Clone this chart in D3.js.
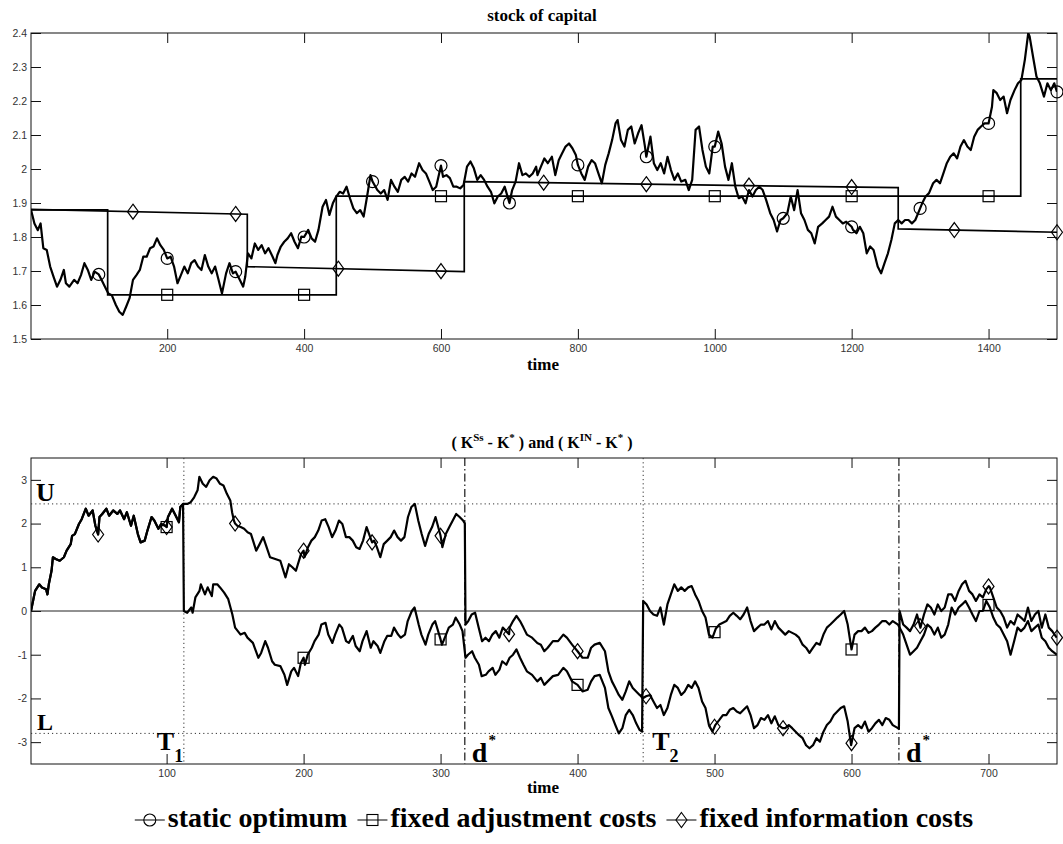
<!DOCTYPE html>
<html>
<head>
<meta charset="utf-8">
<script src="https://cdn.jsdelivr.net/npm/d3@7"></script>
<style>
  body { margin: 0; background: #fff; }
  svg text { font-family: "Liberation Sans", Arial, sans-serif; }
  svg text.serif { font-family: "Liberation Serif", "Times New Roman", serif; font-weight: bold; }
</style>
</head>
<body>
<div id="chart"></div>
<script>
// ---------- top panel: stock of capital ----------
const topXTicks = [200, 400, 600, 800, 1000, 1200, 1400];
const topYTicks = [1.5, 1.6, 1.7, 1.8, 1.9, 2, 2.1, 2.2, 2.3, 2.4];

// static optimum K*
const kStar = [
  [1,1.88],[6,1.84],[11,1.82],[15,1.84],[19,1.767],[24,1.762],[29,1.713],[34,1.683],[39,1.654],[44,1.674],
  [49,1.703],[52,1.664],[57,1.654],[64,1.674],[69,1.664],[74,1.688],[79,1.723],[84,1.703],[89,1.674],[94,1.698],
  [100,1.69],[104,1.674],[109,1.654],[114,1.634],[119,1.629],[125,1.6],[130,1.58],[135,1.571],[140,1.595],[145,1.62],
  [150,1.674],[155,1.688],[160,1.703],[165,1.742],[170,1.742],[175,1.767],[180,1.772],[185,1.796],[190,1.776],[195,1.762],
  [200,1.737],[205,1.742],[210,1.713],[215,1.664],[220,1.688],[225,1.713],[230,1.693],[235,1.723],[240,1.732],[245,1.713],
  [250,1.703],[255,1.747],[260,1.713],[265,1.693],[270,1.713],[275,1.674],[280,1.634],[286,1.693],[291,1.723],[296,1.693],
  [300,1.698],[306,1.674],[311,1.654],[314,1.683],[318,1.752],[323,1.737],[328,1.781],[333,1.762],[338,1.776],[343,1.752],
  [348,1.767],[354,1.742],[358,1.723],[361,1.747],[366,1.772],[371,1.786],[376,1.796],[381,1.811],[386,1.786],[391,1.767],
  [396,1.801],[400,1.80],[406,1.821],[411,1.796],[416,1.786],[421,1.821],[427,1.889],[432,1.909],[437,1.865],[442,1.899],
  [447,1.919],[452,1.933],[457,1.928],[462,1.948],[467,1.914],[472,1.884],[477,1.87],[482,1.879],[487,1.86],[492,1.919],
  [497,1.982],[500,1.963],[507,1.938],[512,1.928],[517,1.938],[522,1.909],[527,1.968],[532,1.948],[537,1.933],[542,1.968],
  [547,1.977],[552,1.963],[557,1.987],[562,1.977],[568,2.017],[573,1.997],[578,1.987],[583,1.963],[588,1.938],[593,1.948],
  [600,2.01],[603,1.977],[608,1.982],[613,1.973],[618,1.948],[623,1.948],[628,1.943],[633,1.953],[638,2.007],[643,2.022],
  [648,2.002],[653,1.968],[658,1.982],[663,1.968],[668,1.948],[673,1.933],[678,1.899],[683,1.919],[688,1.928],[693,1.948],
  [700,1.90],[704,1.938],[709,1.963],[714,2.017],[719,1.982],[724,1.987],[729,1.977],[734,1.987],[739,2.007],[741,1.982],
  [746,2.007],[751,2.031],[756,2.017],[762,2.036],[767,1.982],[772,2.026],[777,2.046],[782,2.066],[787,2.075],[792,2.061],
  [797,2.041],[800,2.012],[805,1.987],[810,1.968],[815,2.007],[820,2.026],[825,2.017],[830,1.987],[835,1.958],[840,2.012],
  [845,2.046],[850,2.085],[855,2.134],[858,2.144],[863,2.085],[868,2.066],[873,2.115],[878,2.125],[883,2.075],[888,2.105],
  [893,2.129],[898,2.066],[900,2.036],[906,2.095],[911,2.017],[916,1.997],[921,2.017],[926,1.987],[931,2.036],[936,1.997],
  [941,1.968],[946,1.987],[951,1.963],[957,1.968],[962,1.938],[967,1.968],[972,2.115],[977,2.125],[982,2.056],[987,2.007],
  [992,1.987],[997,2.066],[1000,2.066],[1005,2.11],[1010,2.075],[1015,2.007],[1020,1.968],[1025,2.017],[1030,1.948],[1035,1.914],
  [1040,1.919],[1045,1.899],[1050,1.938],[1055,1.919],[1060,1.938],[1065,1.948],[1070,1.938],[1075,1.909],[1081,1.87],[1086,1.85],
  [1091,1.816],[1096,1.85],[1100,1.855],[1106,1.87],[1111,1.919],[1116,1.879],[1121,1.938],[1126,1.87],[1131,1.85],[1136,1.821],
  [1141,1.811],[1146,1.781],[1151,1.83],[1157,1.84],[1162,1.85],[1167,1.86],[1172,1.889],[1177,1.86],[1182,1.85],[1187,1.84],
  [1192,1.845],[1200,1.83],[1202,1.821],[1207,1.811],[1212,1.83],[1217,1.811],[1222,1.752],[1227,1.772],[1232,1.762],[1238,1.713],
  [1243,1.693],[1248,1.723],[1253,1.752],[1258,1.791],[1263,1.84],[1268,1.85],[1273,1.84],[1278,1.85],[1283,1.85],[1288,1.84],
  [1293,1.85],[1300,1.884],[1303,1.899],[1308,1.919],[1313,1.929],[1319,1.958],[1324,1.968],[1329,1.958],[1334,1.987],[1339,2.017],
  [1344,2.036],[1349,2.046],[1354,2.031],[1359,2.066],[1364,2.085],[1369,2.066],[1374,2.056],[1379,2.095],[1384,2.115],[1389,2.125],
  [1394,2.134],[1400,2.134],[1405,2.183],[1407,2.232],[1412,2.223],[1417,2.203],[1422,2.213],[1427,2.164],[1432,2.203],[1438,2.232],
  [1443,2.252],[1448,2.262],[1453,2.321],[1458,2.4],[1460,2.39],[1465,2.33],[1470,2.272],[1475,2.252],[1481,2.213],[1486,2.252],
  [1491,2.232],[1496,2.252],[1500,2.227]
];
// fixed adjustment costs K^Ss (step path)
const kSs = [[1,1.88],[113,1.88],[113,1.63],[447,1.63],[447,1.92],[1447,1.92],[1447,2.265],[1500,2.265]];
// fixed information costs K^IN
const kIn = [[1,1.881],[317,1.867],[317,1.713],[634,1.698],[634,1.963],[1268,1.945],[1268,1.824],[1500,1.814]];

const kStarMarks = [100,200,300,400,500,600,700,800,900,1000,1100,1200,1300,1400,1500];
const kSsMarks   = [200,400,600,800,1000,1200,1400];
const kInMarks   = [150,300,450,600,750,900,1050,1200,1350,1500];

// ---------- bottom panel: (K^Ss - K*) and (K^IN - K*) ----------
const botXTicks = [100, 200, 300, 400, 500, 600, 700];
const botYTicks = [-3, -2, -1, 0, 1, 2, 3];
const bandU = 2.45, bandL = -2.8;
const resetT = [112.6, 447.9];      // T1, T2
const resetD = [317.7, 634.6];      // d*

const gapSs = [
  [1,0],[3,0.31],[4,0.46],[7,0.61],[9,0.54],[12,0.5],[13,0.38],[14,0.61],[16,0.92],[17,1.23],
  [19,1.19],[22,1.15],[25,1.23],[27,1.38],[30,1.53],[31,1.72],[33,1.76],[36,1.99],[38,2.1],[41,2.34],
  [43,2.18],[46,2.3],[48,1.95],[50,1.75],[51,2.15],[53,2.22],[56,2.34],[58,2.18],[61,2.3],[64,2.22],
  [66,2.3],[69,2.1],[71,2.26],[74,1.95],[76,2.18],[79,1.76],[81,1.57],[84,1.61],[86,1.84],[89,2.15],
  [91,2.07],[94,1.88],[96,1.99],[99,1.95],[100,1.92],[101,2.15],[104,2.34],[106,2.22],[109,2.03],[110,2.38],
  [112,2.45],[112.6,0],[115,-0.04],[118,0.08],[119,-0.04],[121,0.31],[124,0.46],[125,0.61],[128,0.38],[130,0.54],
  [133,0.34],[134,0.61],[137,0.61],[139,0.54],[142,0.42],[145,0.27],[148,-0.08],[150,-0.38],[154,-0.54],[157,-0.5],
  [159,-0.61],[163,-0.73],[167,-1.07],[169,-0.96],[172,-0.69],[174,-0.84],[177,-1.15],[179,-1.23],[183,-1.26],[186,-1.46],
  [188,-1.69],[191,-1.38],[193,-1.3],[196,-1.49],[198,-1.19],[200,-1.07],[201,-1.23],[203,-1.0],[206,-0.84],[208,-0.69],
  [211,-0.54],[213,-0.31],[216,-0.27],[218,-0.54],[221,-0.73],[223,-0.54],[226,-0.31],[228,-0.38],[231,-0.69],[233,-0.73],
  [236,-0.57],[238,-0.8],[241,-0.92],[243,-0.69],[246,-0.46],[249,-0.84],[251,-0.69],[254,-0.8],[256,-0.96],[259,-0.69],
  [261,-0.57],[264,-0.57],[266,-0.38],[269,-0.54],[271,-0.61],[274,-0.54],[276,-0.23],[279,0],[281,0.08],[284,-0.31],
  [286,-0.54],[289,-0.77],[291,-0.54],[294,-0.31],[296,-0.23],[300,-0.65],[301,-0.77],[304,-0.54],[306,-0.38],[309,-0.31],
  [311,-0.15],[314,-0.31],[316,-0.46],[318.2,-1.07],[320,-1.0],[323,-0.92],[325,-1.07],[328,-1.23],[330,-1.49],[333,-1.46],
  [335,-1.38],[338,-1.3],[340,-1.46],[343,-1.34],[345,-1.15],[348,-1.23],[350.4,-1.07],[352.9,-1.0],[355.4,-0.88],[358,-1.07],
  [360.5,-1.23],[363,-1.38],[366.8,-1.46],[370.6,-1.61],[373.2,-1.53],[375.7,-1.69],[378.2,-1.61],[382,-1.49],[385.8,-1.46],[389.6,-1.3],
  [392.2,-1.38],[396,-1.61],[400,-1.69],[403.6,-1.84],[407.4,-1.8],[409.9,-1.61],[412.4,-1.49],[416.2,-1.46],[420,-1.76],[422.5,-2.22],
  [425.1,-2.41],[427.6,-2.61],[430.1,-2.8],[432.7,-2.68],[435.2,-2.38],[437.7,-2.26],[440.3,-2.38],[442.8,-2.57],[445.3,-2.72],[447.1,-2.76],
  [447.9,0.23],[450.4,0.15],[452.9,0],[455.4,-0.08],[458,-0.11],[460.5,0.08],[463,-0.31],[465.6,0.15],[468.1,0.38],[470.6,0.61],
  [473.2,0.46],[475.7,0.54],[478.2,0.46],[480.8,0.54],[483.3,0.57],[485.8,0.38],[488.3,0.23],[490.9,0],[493.4,-0.15],[495.9,-0.54],
  [498.5,-0.61],[501,-0.4],[503.5,-0.31],[506.1,-0.27],[508.6,-0.23],[511.1,-0.11],[513.7,-0.04],[516.2,-0.11],[518.7,-0.19],[521.2,-0.08],
  [523.8,0.08],[526.3,-0.23],[528.8,-0.46],[531.4,-0.38],[533.9,-0.31],[536.4,-0.31],[539,-0.23],[541.5,-0.42],[544,-0.23],[546.6,-0.38],
  [549.1,-0.46],[551.6,-0.54],[554.2,-0.46],[556.7,-0.5],[559.2,-0.54],[561.7,-0.61],[564.3,-0.77],[566.8,-0.84],[569.3,-0.96],[571.9,-0.84],
  [574.4,-0.73],[576.9,-0.77],[579.5,-0.54],[582,-0.38],[584.5,-0.31],[587.1,-0.23],[589.6,-0.15],[592.1,-0.08],[594.6,0],[597.2,-0.31],
  [600,-0.88],[602.2,-0.54],[604.8,-0.46],[607.3,-0.46],[609.8,-0.38],[612.4,-0.5],[614.9,-0.46],[617.4,-0.38],[620,-0.31],[622.5,-0.23],
  [625,-0.23],[627.6,-0.31],[630.1,-0.23],[633.9,-0.31],[637.7,-0.54],[640.2,-0.77],[642.7,-1.0],[645.3,-0.92],[647.8,-0.84],[650.3,-0.69],
  [652.9,-0.54],[655.4,-0.31],[657.9,-0.38],[660.5,-0.54],[663,-0.38],[665.5,-0.61],[668,-0.54],[670.6,-0.31],[673.1,0.08],[675.6,-0.08],
  [678.2,0.08],[680.7,0.15],[683.2,0.23],[685.8,0.08],[688.3,-0.08],[690.8,-0.23],[693.4,0],[695.9,0],[698.4,0.23],[701,0.08],
  [703.5,-0.15],[706,-0.31],[708.5,-0.38],[711.1,-0.54],[713.6,-0.69],[716.1,-1.0],[718.7,-0.69],[721.2,-0.38],[723.7,-0.46],[726.3,-0.38],
  [728.8,-0.23],[731.3,-0.46],[733.9,-0.38],[736.4,-0.31],[738.9,-0.61],[741.5,-0.69],[744,-0.84],[746.5,-0.92],[749.8,-1.0]
];

const gapIn = [
  [1,0],[3,0.31],[4,0.46],[7,0.61],[9,0.54],[12,0.5],[13,0.38],[14,0.61],[16,0.92],[17,1.23],
  [19,1.19],[22,1.15],[25,1.23],[27,1.38],[30,1.53],[31,1.72],[33,1.76],[36,1.99],[38,2.1],[41,2.34],
  [43,2.18],[46,2.3],[48,1.95],[50,1.75],[51,2.15],[53,2.22],[56,2.34],[58,2.18],[61,2.3],[64,2.22],
  [66,2.3],[69,2.1],[71,2.26],[74,1.95],[76,2.18],[79,1.76],[81,1.57],[84,1.61],[86,1.84],[89,2.15],
  [91,2.07],[94,1.88],[96,1.99],[99,1.95],[100,1.92],[101,2.15],[104,2.34],[106,2.22],[109,2.03],[110,2.38],
  [112,2.45],[115.1,2.45],[117.6,2.49],[120.1,2.6],[122.6,2.76],[123.9,3.07],[126.4,2.91],[128.9,2.84],[131.4,2.99],[134,3.07],
  [136.5,3.03],[139,2.91],[141.5,2.87],[144,2.68],[146.5,2.53],[147.8,2.26],[149.1,2.07],[150,2.0],[151.6,1.95],[154.1,1.92],
  [156.6,1.88],[159.1,1.8],[161.6,1.76],[165.4,1.38],[167.9,1.53],[170.5,1.69],[173,1.46],[175.5,1.23],[179.3,1.19],[183,1.15],
  [186.8,0.77],[189.3,1.07],[191.8,1.0],[194.4,0.92],[198.1,1.3],[200,1.38],[200.7,1.23],[203.2,1.46],[205.7,1.61],[208.2,1.69],
  [210.7,1.84],[213.2,2.07],[215.8,2.1],[218.3,1.92],[220.8,1.69],[223.3,1.84],[225.8,2.07],[228.3,1.99],[230.9,1.69],[233.4,1.69],
  [235.9,1.61],[238.4,1.46],[240.9,1.42],[243.4,1.61],[246,1.92],[250,1.57],[251.5,1.61],[253.5,1.46],[256,1.23],[258.5,1.53],
  [261.1,1.61],[263.6,1.69],[266.1,1.84],[268.6,1.69],[271.1,1.61],[273.6,1.69],[276.2,2.15],[278.7,2.38],[281.2,2.45],[283.7,2.07],
  [286.2,1.76],[288.7,1.49],[291.3,1.76],[293.8,1.92],[296.3,2.15],[300,1.72],[301.3,1.46],[303.8,1.76],[306.4,1.92],[308.9,2.07],
  [311.4,2.22],[313.9,2.15],[316.4,2.07],[317.7,2.0],[318.2,-0.31],[320.2,-0.23],[322.7,-0.08],[325.2,-0.04],[327.8,-0.38],[330.3,-0.69],
  [332.8,-0.61],[335.3,-0.69],[337.8,-0.54],[340.3,-0.46],[342.9,-0.61],[345.4,-0.38],[347.9,-0.46],[350,-0.53],[350.4,-0.38],[352.9,-0.23],
  [355.4,-0.11],[358,-0.23],[360.5,-0.38],[363,-0.54],[366.8,-0.61],[370.6,-0.73],[373.2,-0.77],[375.7,-0.92],[378.2,-0.84],[382,-0.69],
  [385.8,-0.69],[389.6,-0.54],[392.2,-0.61],[396,-0.77],[400,-0.92],[403.6,-1.07],[407.4,-1.07],[409.9,-0.84],[412.4,-0.77],[416.2,-0.73],
  [420,-0.92],[422.5,-1.38],[425.1,-1.61],[427.6,-1.76],[430.1,-1.92],[432.7,-2.03],[435.2,-1.84],[437.7,-1.61],[440.3,-1.76],[442.8,-1.84],
  [445.3,-1.92],[447.9,-1.99],[450,-1.95],[452.9,-1.92],[455.4,-2.07],[458,-2.22],[460.5,-2.15],[463,-2.38],[465.6,-2.22],[468.1,-1.92],
  [470.6,-1.69],[473.2,-1.76],[475.7,-1.92],[478.2,-1.84],[480.8,-1.69],[483.3,-1.76],[485.8,-1.61],[488.3,-1.76],[490.9,-2.07],[493.4,-2.22],
  [495.9,-2.61],[498.5,-2.76],[500.5,-2.61],[503.5,-2.49],[506.1,-2.38],[508.6,-2.38],[511.1,-2.26],[513.7,-2.22],[516.2,-2.3],[518.7,-2.34],
  [521.2,-2.26],[523.8,-2.18],[526.3,-2.38],[528.8,-2.68],[531.4,-2.61],[533.9,-2.45],[536.4,-2.49],[539,-2.38],[541.5,-2.57],[544,-2.41],
  [546.6,-2.61],[549.6,-2.68],[551.6,-2.68],[554.2,-2.61],[556.7,-2.68],[559.2,-2.76],[561.7,-2.84],[564.3,-2.91],[566.8,-3.07],[569.3,-3.14],
  [571.9,-3.07],[574.4,-2.91],[576.9,-2.99],[579.5,-2.76],[582,-2.61],[584.5,-2.53],[587.1,-2.38],[589.6,-2.3],[592.1,-2.22],[594.6,-2.18],
  [597.2,-2.53],[599.7,-3.07],[602.2,-2.68],[604.8,-2.61],[607.3,-2.68],[609.8,-2.53],[612.4,-2.76],[614.9,-2.68],[617.4,-2.57],[620,-2.49],
  [622.5,-2.61],[625,-2.45],[627.6,-2.49],[630.1,-2.61],[633.9,-2.68],[634.6,-2.7],[635.1,0],[637.7,-0.31],[640.2,-0.38],[642.7,-0.46],
  [645.3,-0.31],[647.8,-0.08],[650.3,-0.38],[652.9,-0.08],[655.4,0.15],[657.9,0.08],[660.5,-0.08],[663,0.15],[665.5,0],[668,0.08],
  [670.6,0.38],[673.1,0.38],[675.6,0.23],[678.2,0.46],[680.7,0.61],[683.2,0.69],[685.8,0.46],[688.3,0.38],[690.8,0.23],[693.4,0.38],
  [695.9,0.31],[698.4,0.5],[700.2,0.57],[701,0.54],[703.5,0.31],[706,0.08],[708.5,0],[711.1,-0.15],[713.6,-0.38],[716.1,-0.23],
  [718.7,-0.31],[721.2,-0.08],[723.7,-0.15],[726.3,-0.23],[728.8,0.08],[731.3,-0.23],[733.9,-0.08],[736.4,0],[738.9,-0.38],[741.5,-0.08],
  [744,-0.38],[746.5,-0.46],[749.8,-0.61]
];

const gapSsMarks = [100,200,300,400,500,600,700];
const gapInMarks = [50,100,150,200,250,300,350,400,450,500,550,600,650,700,750];

const legendLabels = ["static optimum", "fixed adjustment costs", "fixed information costs"];
const legendSymbols = ["circle", "square", "diamond"];

// ---------- drawing ----------
const width = 1063, height = 844;
const plotLeft = 31, plotRight = 1057;

const svg = d3.select("#chart")
              .append("svg")
              .attr("width", width)
              .attr("height", height);

function valueAt(series, t) {
    const i = d3.bisector(d => d[0]).right(series, t);
    const a = series[Math.max(0, i - 1)], b = series[i];
    if (!b || b[0] === a[0]) return a[1];
    return a[1] + (b[1] - a[1]) * (t - a[0]) / (b[0] - a[0]);
}

function addMarker(g, type, cx, cy) {
    if (type === "circle") {
        g.append("circle").attr("cx", cx).attr("cy", cy).attr("r", 6);
    } else if (type === "square") {
        g.append("rect").attr("x", cx - 5.5).attr("y", cy - 5.5).attr("width", 11).attr("height", 11);
    } else {
        g.append("path").attr("d", `M${cx},${cy - 7.5}L${cx + 5.5},${cy}L${cx},${cy + 7.5}L${cx - 5.5},${cy}Z`);
    }
}

function makePanel(id, xDomain, yDomain, top, bottom, xTicks, yTicks) {
    const x = d3.scaleLinear().domain(xDomain).range([plotLeft, plotRight]);
    const y = d3.scaleLinear().domain(yDomain).range([bottom, top]);
    const g = svg.append("g");

    g.append("clipPath").attr("id", id)
     .append("rect")
     .attr("x", plotLeft).attr("y", top)
     .attr("width", plotRight - plotLeft).attr("height", bottom - top);

    // ticks pointing inward on all four sides (matlab style)
    const fmt = d => String(d);
    const axes = [
        [d3.axisBottom(x).tickValues(xTicks).tickFormat(fmt), `translate(0,${bottom})`],
        [d3.axisTop(x).tickValues(xTicks).tickFormat(""), `translate(0,${top})`],
        [d3.axisLeft(y).tickValues(yTicks).tickFormat(fmt), `translate(${plotLeft},0)`],
        [d3.axisRight(y).tickValues(yTicks).tickFormat(""), `translate(${plotRight},0)`]
    ];
    axes.forEach(([ax, tr], i) => {
        const a = g.append("g").attr("transform", tr)
                   .call(ax.tickSizeInner(-10).tickSizeOuter(0).tickPadding(i === 2 ? 4 : 6));
        a.select(".domain").remove();
        a.selectAll("line").attr("stroke", "#111");
        a.selectAll("text").attr("fill", "#333").style("font-size", "10.5px");
    });

    g.append("rect")
     .attr("x", plotLeft).attr("y", top)
     .attr("width", plotRight - plotLeft).attr("height", bottom - top)
     .attr("fill", "none").attr("stroke", "#111").attr("stroke-width", 1);

    const plot = g.append("g").attr("clip-path", `url(#${id})`);
    const line = d3.line().x(d => x(d[0])).y(d => y(d[1]));
    return { x, y, g, plot, line, top, bottom };
}

function drawMarkers(p, series, times, type) {
    const mg = p.g.append("g").attr("fill", "none").attr("stroke", "#000").attr("stroke-width", 1.2);
    times.forEach(t => addMarker(mg, type, p.x(t), p.y(valueAt(series, t))));
}

// --- top panel
const pTop = makePanel("clipTop", [1, 1500], [1.5, 2.4], 33, 339, topXTicks, topYTicks);

pTop.plot.append("path").datum(kSs).attr("d", pTop.line)
    .attr("fill", "none").attr("stroke", "#000").attr("stroke-width", 1.7);
pTop.plot.append("path").datum(kIn).attr("d", pTop.line)
    .attr("fill", "none").attr("stroke", "#000").attr("stroke-width", 1.7);
pTop.plot.append("path").datum(kStar).attr("d", pTop.line)
    .attr("fill", "none").attr("stroke", "#000").attr("stroke-width", 2.2)
    .attr("stroke-linejoin", "round");

drawMarkers(pTop, kStar, kStarMarks, "circle");
drawMarkers(pTop, kSs, kSsMarks, "square");
drawMarkers(pTop, kIn, kInMarks, "diamond");

svg.append("text").attr("class", "serif")
   .attr("x", 542).attr("y", 21).attr("text-anchor", "middle")
   .style("font-size", "17px").text("stock of capital");
svg.append("text").attr("class", "serif")
   .attr("x", 543).attr("y", 370).attr("text-anchor", "middle")
   .style("font-size", "17px").text("time");

// --- bottom panel
const pBot = makePanel("clipBot", [1, 750], [-3.5, 3.5], 458, 764, botXTicks, botYTicks);

pBot.plot.append("line")
    .attr("x1", plotLeft).attr("x2", plotRight)
    .attr("y1", pBot.y(0)).attr("y2", pBot.y(0))
    .attr("stroke", "#222").attr("stroke-width", 1);

[bandU, bandL].forEach(v => {
    pBot.plot.append("line")
        .attr("x1", plotLeft).attr("x2", plotRight)
        .attr("y1", pBot.y(v)).attr("y2", pBot.y(v))
        .attr("stroke", "#333").attr("stroke-width", 1).attr("stroke-dasharray", "1.2,3");
});
resetT.forEach(t => {
    pBot.plot.append("line")
        .attr("x1", pBot.x(t)).attr("x2", pBot.x(t))
        .attr("y1", pBot.top).attr("y2", pBot.bottom)
        .attr("stroke", "#333").attr("stroke-width", 1).attr("stroke-dasharray", "1.2,3");
});
resetD.forEach(t => {
    pBot.plot.append("line")
        .attr("x1", pBot.x(t)).attr("x2", pBot.x(t))
        .attr("y1", pBot.top).attr("y2", pBot.bottom)
        .attr("stroke", "#000").attr("stroke-width", 1.1).attr("stroke-dasharray", "8,3,1.5,3");
});

pBot.plot.append("path").datum(gapSs).attr("d", pBot.line)
    .attr("fill", "none").attr("stroke", "#000").attr("stroke-width", 2.2)
    .attr("stroke-linejoin", "round");
pBot.plot.append("path").datum(gapIn).attr("d", pBot.line)
    .attr("fill", "none").attr("stroke", "#000").attr("stroke-width", 2.2)
    .attr("stroke-linejoin", "round");

drawMarkers(pBot, gapSs, gapSsMarks, "square");
drawMarkers(pBot, gapIn, gapInMarks, "diamond");

// band and reset labels
const ann = svg.append("g").attr("fill", "#000");
ann.append("text").attr("class", "serif").attr("x", plotLeft + 5).attr("y", pBot.y(bandU) - 3)
   .style("font-size", "26px").text("U");
ann.append("text").attr("class", "serif").attr("x", plotLeft + 6).attr("y", pBot.y(bandL) - 3)
   .style("font-size", "24px").text("L");

function resetLabel(xPos, sub) {
    const t = ann.append("text").attr("class", "serif")
                 .attr("x", xPos).attr("y", pBot.bottom - 14).style("font-size", "26px");
    t.append("tspan").text("T");
    t.append("tspan").attr("dy", 12).style("font-size", "18px").text(sub);
}
resetLabel(pBot.x(resetT[0]) - 27, "1");
resetLabel(pBot.x(resetT[1]) + 9, "2");

resetD.forEach(t => {
    const d = ann.append("text").attr("class", "serif")
                 .attr("x", pBot.x(t) + 7).attr("y", pBot.bottom - 2).style("font-size", "28px");
    d.append("tspan").text("d");
    d.append("tspan").attr("dy", -17).attr("dx", 1).style("font-size", "15px").text("*");
});

// bottom title with superscripts
const bt = svg.append("text").attr("class", "serif")
   .attr("x", 542).attr("y", 448).attr("text-anchor", "middle")
   .style("font-size", "16px");
[["( K", 0], ["Ss", 1], [" - K", 0], ["*", 1], [" ) and ( K", 0], ["IN", 1], [" - K", 0], ["*", 1], [" )", 0]]
  .reduce((prevSup, [s, sup]) => {
      const dy = sup && !prevSup ? -7 : (!sup && prevSup ? 7 : 0);
      bt.append("tspan").attr("dy", dy).style("font-size", sup ? "11px" : "16px").text(s);
      return sup;
  }, 0);

svg.append("text").attr("class", "serif")
   .attr("x", 543).attr("y", 793).attr("text-anchor", "middle")
   .style("font-size", "17px").text("time");

// legend
const lg = svg.append("g");
const items = legendLabels.map((label, i) => {
    const gi = lg.append("g");
    const txt = gi.append("text").attr("class", "serif").attr("x", 33).attr("y", 0)
                  .style("font-size", "28px").text(label);
    gi.append("line").attr("x1", 0).attr("x2", 30).attr("y1", -7).attr("y2", -7)
      .attr("stroke", "#000").attr("stroke-width", 1);
    const mg = gi.append("g").attr("fill", "none").attr("stroke", "#000").attr("stroke-width", 1.1);
    addMarker(mg, legendSymbols[i], 15, -7);
    return { gi, w: 33 + txt.node().getComputedTextLength() };
});
const gap = 10;
const total = d3.sum(items, d => d.w) + gap * (items.length - 1);
let cursor = 554 - total / 2;
items.forEach(it => {
    it.gi.attr("transform", `translate(${cursor},827)`);
    cursor += it.w + gap;
});
</script>
</body>
</html>
